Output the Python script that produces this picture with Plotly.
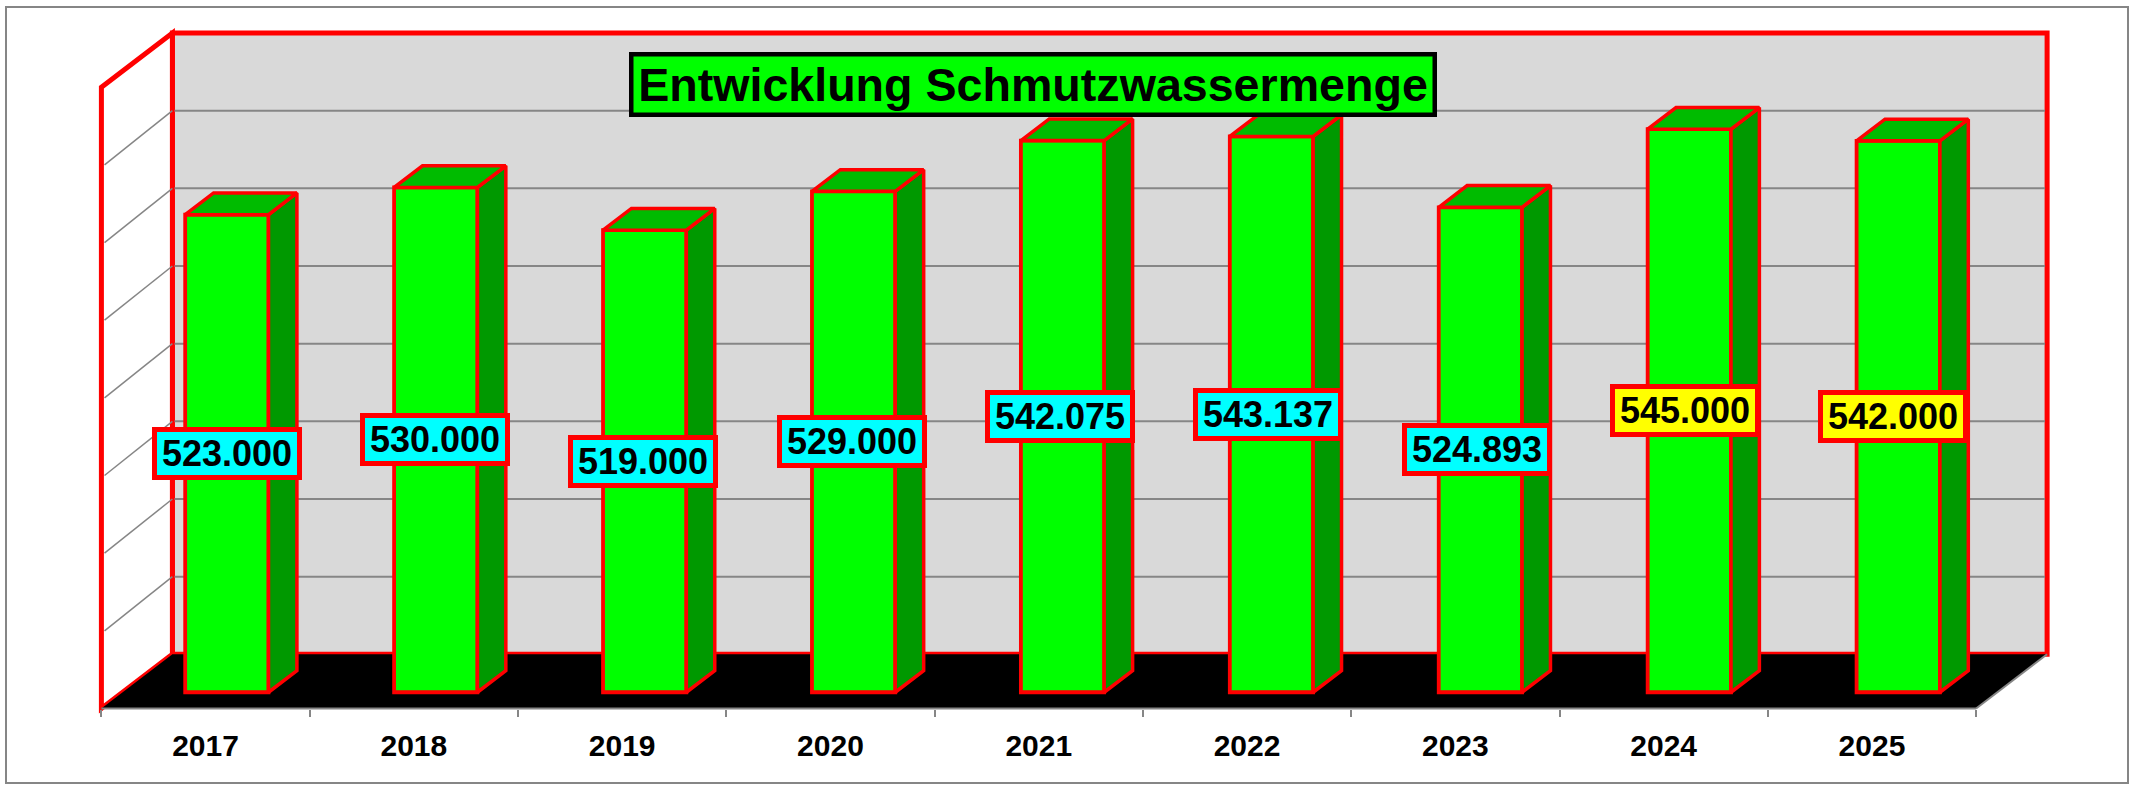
import plotly.graph_objects as go

years = ["2017", "2018", "2019", "2020", "2021", "2022", "2023", "2024", "2025"]
values = [523000, 530000, 519000, 529000, 542075, 543137, 524893, 545000, 542000]
label_fill = ["#00FFFF"] * 7 + ["#FFFF00"] * 2
grid_values = [420000, 440000, 460000, 480000, 500000, 520000, 540000]
axis_min, axis_max = 400000, 560000
title_text = "Entwicklung Schmutzwassermenge"

W, H = 2133, 787
PX_CAT = 208.3        # pixels per category
PX_K = 3.883 / 1000   # pixels per value unit
X0_PX, Y0_PX = 101.4, 708.5
DX = 71 / PX_CAT      # oblique depth in axis units
DV = 54.2 / PX_K
BAR_W = 0.4
BAR_STEP = 1.003      # bars sit on a slightly wider pitch than the ticks
T0, T1 = 0.3, 0.7     # bar depth span
RED, GREY = "#FF0000", "#868686"
n = len(years)


def P(u, v, t=0.0):
    return u + t * DX, v + t * DV


def poly_path(pts):
    return "M " + " L ".join(f"{x},{y}" for x, y in pts) + " Z"


shapes = []
# page frame
shapes.append(dict(type="rect", xref="paper", yref="paper", x0=6 / W, x1=2128 / W, y0=1 - 783 / H, y1=1 - 7 / H,
                   line=dict(color=GREY, width=2), fillcolor="white", layer="below"))
# back wall
shapes.append(dict(type="path", xref="x", yref="y", layer="below", fillcolor="#D9D9D9",
                   line=dict(color=RED, width=5),
                   path=poly_path([P(0, axis_min, 1), P(0, axis_max, 1), P(n, axis_max, 1), P(n, axis_min, 1)])))
# side wall
shapes.append(dict(type="path", xref="x", yref="y", layer="below", fillcolor="white",
                   line=dict(color=RED, width=5),
                   path=poly_path([P(0, axis_min), P(0, axis_max), P(0, axis_max, 1), P(0, axis_min, 1)])))
# gridlines
for g in grid_values:
    a, b = P(0, g, 1), P(n, g, 1)
    shapes.append(dict(type="line", xref="x", yref="y", layer="below", x0=a[0] + 0.01, y0=a[1], x1=b[0] - 0.01, y1=b[1],
                       line=dict(color=GREY, width=2)))
    c = P(0.015, g)
    shapes.append(dict(type="line", xref="x", yref="y", layer="below", x0=c[0], y0=c[1], x1=a[0], y1=a[1],
                       line=dict(color=GREY, width=1.5)))
# floor
shapes.append(dict(type="path", xref="x", yref="y", layer="below", fillcolor="#000000",
                   line=dict(width=0),
                   path=poly_path([P(0, axis_min), P(0, axis_min, 1), P(n, axis_min, 1), P(n, axis_min)])))
a, b, c = P(0, axis_min), P(n, axis_min), P(n, axis_min, 1)
shapes.append(dict(type="line", xref="x", yref="y", layer="below", x0=a[0], y0=a[1], x1=b[0], y1=b[1],
                   line=dict(color=GREY, width=2)))
shapes.append(dict(type="line", xref="x", yref="y", layer="below", x0=b[0], y0=b[1], x1=c[0], y1=c[1],
                   line=dict(color=GREY, width=2)))

fig = go.Figure()

base0 = axis_min + T0 * DV
centers = [(i + 0.5) * BAR_STEP + T0 * DX - 0.0015 for i in range(n)]
label_x = [i + 0.5 + T0 * DX for i in range(n)]
fig.add_trace(go.Bar(x=centers, y=[v - base0 + T0 * DV for v in values], base=base0, width=BAR_W,
                     marker=dict(color="#00FF00", line=dict(color=RED, width=3.8)), hoverinfo="skip"))

side_x, side_y, top_x, top_y = [], [], [], []
for c, v in zip(centers, values):
    r = c + BAR_W / 2
    l = c - BAR_W / 2
    top = v + T0 * DV
    d = (T1 - T0)
    side_x += [r, r + d * DX, r + d * DX, r, r, None]
    side_y += [base0, base0 + d * DV, top + d * DV, top, base0, None]
    top_x += [l, l + d * DX, r + d * DX, r, l, None]
    top_y += [top, top + d * DV, top + d * DV, top, top, None]

fig.add_trace(go.Scatter(x=side_x, y=side_y, mode="lines", fill="toself", fillcolor="#009900",
                         line=dict(color=RED, width=3.5), hoverinfo="skip"))
fig.add_trace(go.Scatter(x=top_x, y=top_y, mode="lines", fill="toself", fillcolor="#00BB00",
                         line=dict(color=RED, width=3.5), hoverinfo="skip"))

annotations = []
for c, v, col in zip(label_x, values, label_fill):
    annotations.append(dict(x=c, y=(axis_min + v) / 2 + T0 * DV, xref="x", yref="y", showarrow=False,
                            xanchor="center", yanchor="middle",
                            text=f"{v:,}".replace(",", "."),
                            font=dict(family="Liberation Sans", size=36, color="black", weight=700),
                            bgcolor=col, bordercolor=RED, borderwidth=5, borderpad=0,
                            width=140, height=43, align="center", valign="middle"))
annotations.append(dict(x=1032.5 / W, y=1 - 84.4 / H, xref="paper", yref="paper", showarrow=False, text=title_text,
                        xanchor="center", yanchor="middle",
                        font=dict(family="Liberation Sans", size=46.6, color="black", weight=700),
                        bgcolor="#00FF00", bordercolor="#000000", borderwidth=4.5, borderpad=0,
                        width=799, height=56, align="center", valign="middle"))

fig.update_layout(
    width=W, height=H, margin=dict(l=0, r=0, t=0, b=0), showlegend=False,
    paper_bgcolor="white", plot_bgcolor="rgba(0,0,0,0)",
    shapes=shapes, annotations=annotations,
    xaxis=dict(range=[(0 - X0_PX) / PX_CAT, (W - X0_PX) / PX_CAT], anchor="free", position=1 - Y0_PX / H,
               tickmode="array", tickvals=[i + 0.5 for i in range(n)], ticktext=years,
               ticks="outside", ticklen=10, tickcolor="rgba(0,0,0,0)", tickwidth=1,
               tickfont=dict(family="Liberation Sans", size=30, color="black", weight=700),
               showgrid=False, zeroline=False, showline=False,
               minor=dict(tickmode="array", tickvals=list(range(n + 1)), ticks="outside", ticklen=7,
                          tickcolor=GREY, tickwidth=2, showgrid=False)),
    yaxis=dict(range=[axis_min + (Y0_PX - H) / PX_K, axis_min + Y0_PX / PX_K],
               visible=False, showgrid=False, zeroline=False),
)

fig.write_html("out.html", config=dict(displayModeBar=False),
               post_script="document.body.style.margin='0';document.body.style.overflow='hidden';")
